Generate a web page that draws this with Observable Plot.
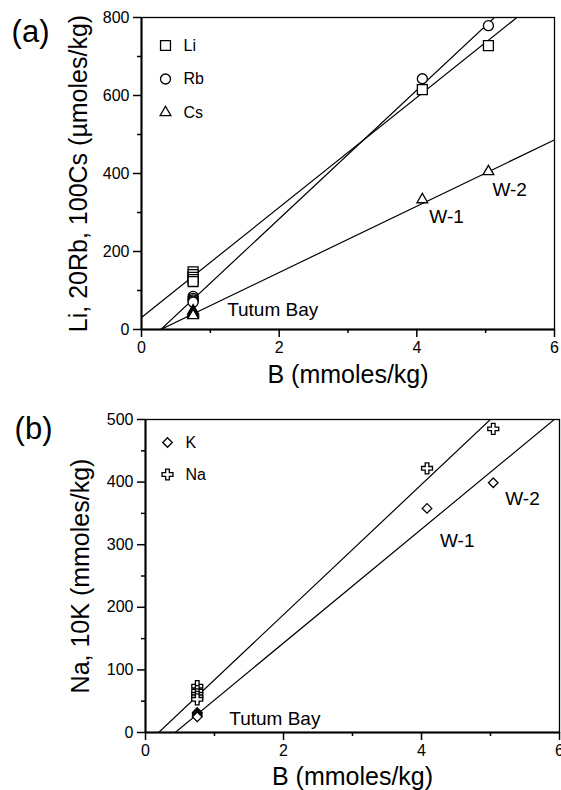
<!DOCTYPE html>
<html>
<head>
<meta charset="utf-8">
<script src="https://cdn.jsdelivr.net/npm/d3@7"></script>
<script src="https://cdn.jsdelivr.net/npm/@observablehq/plot@0.6"></script>
<style>
  html, body { margin: 0; padding: 0; background: #fff; }
  #chart { width: 561px; height: 790px; overflow: hidden; }
  #chart svg { display: block; }
</style>
</head>
<body>
<div id="chart"></div>
<script>
// Boron vs. alkali metals in Tutum Bay vent fluids and wells W-1, W-2

// Wells
const wells = ["W-1", "W-2"];
const wellB  = [4.08, 5.04];
const wellLi = [615, 728];
const wellRb = [643, 779];   // 20 × Rb
const wellCs = [333, 405];   // 100 × Cs
const wellNa = [422, 485];
const wellK  = [358, 399];   // 10 × K

// Tutum Bay hydrothermal vent samples
const tutumB  = [0.75, 0.75, 0.75, 0.75, 0.75];
const tutumLi = [148, 141, 134, 128, 123];
const tutumRb = [85, 80, 76, 73, 70];
const tutumCs = [48, 45, 42, 39, 36];
const tutumNa = [74, 66, 61, 57, 53];
const tutumK  = [32, 30, 28, 26, 25];

// Linear fits: value = intercept + slope × B
const fitsA = ["Li", "Rb", "Cs"];
const slopeA = [141, 165, 85];
const interceptA = [31, -46.2, -23.8];
const fitsB = ["Na", "K"];
const slopeB = [104, 91];
const interceptB = [-19.8, -39.1];

// Axis titles, panel tags and legends
const xTitle = "B (mmoles/kg)";
const yTitleA = "Li, 20Rb, 100Cs (µmoles/kg)";
const yTitleB = "Na, 10K (mmoles/kg)";
const tagA = "(a)";
const tagB = "(b)";
const siteLabel = "Tutum Bay";
const legendA = ["Li", "Rb", "Cs"];
const legendB = ["K", "Na"];
const xTicks = [0, 2, 4, 6];
const xMinor = [1, 3, 5];
const yTicksA = [0, 200, 400, 600, 800];
const yMinorA = [100, 300, 500, 700];
const yTicksB = [0, 100, 200, 300, 400, 500];
const yMinorB = [50, 150, 250, 350, 450];

const font = "'Liberation Sans', Arial, Helvetica, sans-serif";
const dotStyle = {stroke: "black", fill: "white", strokeWidth: 1.3};
const symbolR = {square: 5.6, circle: 5, triangle: 4, diamond2: 4.3, cross: 4.6};
const plain = d => String(d);

function fitLine(slope, intercept, domain) {
  const pts = domain.map(x => ({x, y: intercept + slope * x}));
  return Plot.line(pts, {x: "x", y: "y", stroke: "black", strokeWidth: 1.2, clip: true});
}

function seriesDots(b, v, symbol) {
  return Plot.dot(v, {x: b, y: v, symbol, r: symbolR[symbol], ...dotStyle});
}

function axes(yTicks, yMinor) {
  return [
    Plot.axisX({ticks: xTicks, tickSize: 8, tickPadding: 4, tickFormat: plain, fontSize: 16, label: null, strokeWidth: 1.5}),
    Plot.axisX({ticks: xMinor, tickSize: 4, tickFormat: () => "", label: null, strokeWidth: 1.5}),
    Plot.axisY({ticks: yTicks, tickSize: 8, tickPadding: 4, tickFormat: plain, fontSize: 16, label: null, strokeWidth: 1.5}),
    Plot.axisY({ticks: yMinor, tickSize: 4, tickFormat: () => "", label: null, strokeWidth: 1.5}),
    Plot.frame({stroke: "black", strokeWidth: 1.3}),
    Plot.ruleY([0], {stroke: "black", strokeWidth: 2}),
    Plot.ruleX([0], {stroke: "black", strokeWidth: 2})
  ];
}

function legend(names, symbols, dx, dy0, step) {
  return names.flatMap((name, i) => [
    Plot.dot([name], {frameAnchor: "top-left", dx, dy: dy0 + i * step,
      symbol: symbols[i], r: symbolR[symbols[i]], ...dotStyle}),
    Plot.text([name], {frameAnchor: "top-left", dx: dx + 18, dy: dy0 + i * step,
      text: d => d, textAnchor: "start", lineAnchor: "middle", fontSize: 16})
  ]);
}

function title(text, opts) {
  return Plot.text([text], {text: d => d, textAnchor: "middle", lineAnchor: "middle", ...opts});
}

const style = {fontFamily: font, fontSize: "16px", color: "black", background: "white", overflow: "visible"};

// Panel (a): Li, Rb, Cs
const plotA = Plot.plot({
  width: 561, height: 392,
  marginTop: 17, marginBottom: 63, marginLeft: 141, marginRight: 7,
  style,
  x: {domain: [0, 6]},
  y: {domain: [0, 800]},
  marks: [
    ...fitsA.map((f, i) => fitLine(slopeA[i], interceptA[i], [0, 6])),
    ...axes(yTicksA, yMinorA),
    seriesDots([...tutumB, ...wellB], [...tutumLi, ...wellLi], "square"),
    seriesDots([...tutumB, ...wellB], [...tutumRb, ...wellRb], "circle"),
    seriesDots([...tutumB, ...wellB], [...tutumCs, ...wellCs], "triangle"),
    Plot.text([wells[0]], {x: [wellB[0]], y: [wellCs[0]], dx: 7, dy: 17, textAnchor: "start", fontSize: 19}),
    Plot.text([wells[1]], {x: [wellB[1]], y: [wellCs[1]], dx: 4, dy: 18, textAnchor: "start", fontSize: 19}),
    Plot.text([siteLabel], {x: [tutumB[0]], y: [d3.mean(tutumCs)], dx: 34, dy: -3, textAnchor: "start", fontSize: 19}),
    ...legend(legendA, ["square", "circle", "triangle"], 24, 28, 33.5),
    title(xTitle, {frameAnchor: "bottom", dy: 45, fontSize: 25}),
    title(yTitleA, {frameAnchor: "left", dx: -63, rotate: -90, fontSize: 25}),
    title(tagA, {frameAnchor: "top-left", dx: -111, dy: 15, fontSize: 31})
  ]
});

// Panel (b): Na, K
const plotB = Plot.plot({
  width: 561, height: 398,
  marginTop: 27, marginBottom: 58, marginLeft: 145, marginRight: 2,
  style,
  x: {domain: [0, 6]},
  y: {domain: [0, 500]},
  marks: [
    ...fitsB.map((f, i) => fitLine(slopeB[i], interceptB[i], [0, 6])),
    ...axes(yTicksB, yMinorB),
    seriesDots([...tutumB, ...wellB], [...tutumK, ...wellK], "diamond2"),
    seriesDots([...tutumB, ...wellB], [...tutumNa, ...wellNa], "cross"),
    Plot.text([wells[0]], {x: [wellB[0]], y: [wellK[0]], dx: 13, dy: 33, textAnchor: "start", fontSize: 19}),
    Plot.text([wells[1]], {x: [wellB[1]], y: [wellK[1]], dx: 12, dy: 16, textAnchor: "start", fontSize: 19}),
    Plot.text([siteLabel], {x: [tutumB[0]], y: [d3.mean(tutumK)], dx: 32, dy: 4, textAnchor: "start", fontSize: 19}),
    ...legend(legendB, ["diamond2", "cross"], 22, 23, 32),
    title(xTitle, {frameAnchor: "bottom", dy: 44, fontSize: 25}),
    title(yTitleB, {frameAnchor: "left", dx: -65, rotate: -90, fontSize: 25}),
    title(tagB, {frameAnchor: "top-left", dx: -112, dy: 10, fontSize: 31})
  ]
});

const chart = document.getElementById("chart");
chart.append(plotA, plotB);
</script>
</body>
</html>
